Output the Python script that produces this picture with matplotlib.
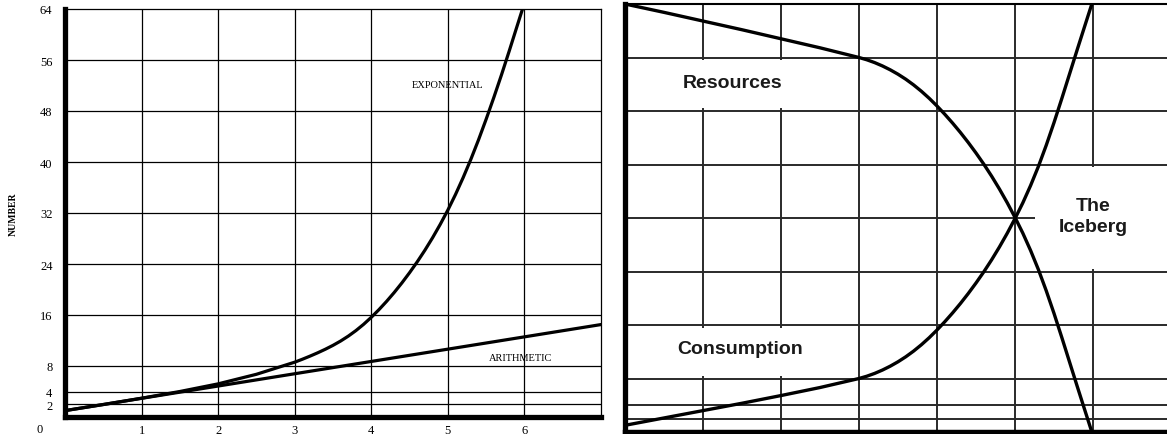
import matplotlib.pyplot as plt
from matplotlib.patches import Rectangle

# ---- left chart: arithmetic vs exponential growth ----
exp_x = [0, 0.5, 1, 1.5, 2, 2.5, 3, 3.1, 3.2, 3.3, 3.4, 3.5, 3.6, 3.7, 3.8,
         3.9, 4, 4.1, 4.2, 4.3, 4.4, 4.5, 4.6, 4.7, 4.8, 4.9, 5, 5.1, 5.2,
         5.3, 5.4, 5.5, 5.6, 5.7, 5.8, 5.9, 5.975]
exponential = [1, 1.95, 2.95, 4.0, 5.2, 6.7, 8.6, 9.06, 9.55, 10.07, 10.63,
               11.24, 11.92, 12.69, 13.56, 14.54, 15.64, 16.84, 18.14, 19.54,
               21.04, 22.64, 24.34, 26.16, 28.11, 30.21, 32.46, 34.91, 37.56,
               40.41, 43.46, 46.71, 50.11, 53.66, 57.36, 61.16, 64]
arith_x = [0, 7]
arithmetic = [1, 14.5]

left_grid_y = [2, 4, 8, 16, 24, 32, 40, 48, 56]
left_grid_x = [1, 2, 3, 4, 5, 6]
left_yticks = [2, 4, 8, 16, 24, 32, 40, 48, 56, 64]

# ---- right chart: resources vs consumption ----
res_x = [0, 0.5, 1, 1.5, 2, 2.5, 3, 3.1, 3.2, 3.3, 3.4, 3.5, 3.6, 3.7, 3.8,
         3.9, 4, 4.1, 4.2, 4.3, 4.4, 4.5, 4.6, 4.7, 4.8, 4.9, 5, 5.1, 5.2,
         5.3, 5.4, 5.5, 5.6, 5.7, 5.8, 5.9, 5.985]
resources = [64, 62.75, 61.45, 60.15, 58.8, 57.45, 56, 55.66, 55.24, 54.74,
             54.16, 53.5, 52.75, 51.9, 50.95, 49.9, 48.75, 47.51, 46.19,
             44.79, 43.3, 41.72, 40.05, 38.26, 36.34, 34.29, 32.09, 29.74,
             27.14, 24.29, 21.14, 17.74, 14.14, 10.44, 6.74, 3.09, 0]
cons_x = [0, 0.5, 1, 1.5, 2, 2.5, 3, 3.1, 3.2, 3.3, 3.4, 3.5, 3.6, 3.7, 3.8,
          3.9, 4, 4.1, 4.2, 4.3, 4.4, 4.5, 4.6, 4.7, 4.8, 4.9, 5, 5.1, 5.2,
          5.3, 5.4, 5.5, 5.6, 5.7, 5.8, 5.9, 5.985]
consumption = [1, 2.1, 3.2, 4.3, 5.45, 6.65, 8, 8.34, 8.76, 9.26, 9.84, 10.5,
               11.25, 12.1, 13.05, 14.1, 15.25, 16.49, 17.81, 19.21, 20.7,
               22.28, 23.95, 25.74, 27.66, 29.71, 31.91, 34.26, 36.86, 39.71,
               42.86, 46.26, 49.86, 53.56, 57.26, 60.91, 64]

right_grid_y = [2, 4, 8, 16, 24, 32, 40, 48, 56]
right_grid_x = [1, 2, 3, 4, 5, 6]

W, H = 1167, 435
fig = plt.figure(figsize=(W / 100, H / 100), dpi=100)
serif = "Liberation Serif"
sans = "Liberation Sans"

# left panel
ax = fig.add_axes([65 / W, (H - 418) / H, 536 / W, 408 / H])
ax.set_xlim(0, 7)
ax.set_ylim(0, 64)
ax.hlines(left_grid_y, 0, 7, colors="black", linewidth=0.9, zorder=1)
ax.vlines(left_grid_x, 0, 64, colors="black", linewidth=0.9, zorder=1)
ax.plot(exp_x, exponential, color="black", linewidth=2.3, zorder=3,
        solid_joinstyle="round")
ax.plot(arith_x, arithmetic, color="black", linewidth=2.3, zorder=3)
for side in ["left", "bottom"]:
    ax.spines[side].set_linewidth(3.8)
for side in ["top", "right"]:
    ax.spines[side].set_linewidth(0.9)
ax.set_xticks(left_grid_x)
ax.set_yticks(left_yticks)
ax.tick_params(length=0, labelsize=9)
ax.tick_params(axis="x", pad=5)
ax.tick_params(axis="y", pad=9)
for lab in ax.get_xticklabels() + ax.get_yticklabels():
    lab.set_family(serif)
ax.annotate("0", xy=(0, 0), xytext=(-18, -8.5), textcoords="offset points",
            ha="center", va="center", fontsize=9, family=serif)
fig.text(13 / W, 1 - 214 / H, "NUMBER", rotation=90, ha="center",
         va="center", fontsize=7, fontweight="bold", family=serif)
ax.text(5.0, 52.2, "EXPONENTIAL", ha="center", va="center", fontsize=7.5,
        family=serif)
ax.text(5.95, 9.4, "ARITHMETIC", ha="center", va="center", fontsize=7.5,
        family=serif)

# right panel
ax2 = fig.add_axes([625 / W, (H - 433) / H, 542 / W, 428 / H])
ax2.set_xlim(0, 542 / 78)
ax2.set_ylim(0, 64)
ax2.hlines(right_grid_y, 0, 7, colors="#2a2a2a", linewidth=1.4, zorder=1)
ax2.vlines(right_grid_x, 0, 64, colors="#2a2a2a", linewidth=1.4, zorder=1)
# white label backgrounds that interrupt the grid
for (x0, y0, w, h) in [(0.05, 48.4, 2.9, 7.2), (0.05, 8.4, 2.9, 7.2),
                       (5.25, 24.4, 2.0, 15.2)]:
    ax2.add_patch(Rectangle((x0, y0), w, h, facecolor="white",
                            edgecolor="none", zorder=2))
ax2.plot(res_x, resources, color="black", linewidth=2.4, zorder=3,
         solid_joinstyle="round")
ax2.plot(cons_x, consumption, color="black", linewidth=2.4, zorder=3,
         solid_joinstyle="round")
ax2.spines["left"].set_linewidth(3.8)
ax2.spines["bottom"].set_linewidth(3.2)
ax2.spines["top"].set_linewidth(1.5)
ax2.spines["right"].set_visible(False)
ax2.set_xticks([])
ax2.set_yticks([])
ax2.text(1.38, 52.2, "Resources", ha="center", va="center", fontsize=14,
         fontweight="bold", family=sans, color="#1a1a1a", zorder=4)
ax2.text(1.47, 12.5, "Consumption", ha="center", va="center", fontsize=14,
         fontweight="bold", family=sans, color="#1a1a1a", zorder=4)
ax2.text(6.0, 32.3, "The\nIceberg", ha="center", va="center", fontsize=14,
         fontweight="bold", family=sans, color="#1a1a1a", zorder=4,
         linespacing=1.3)

fig.savefig("out.png", dpi=100)
